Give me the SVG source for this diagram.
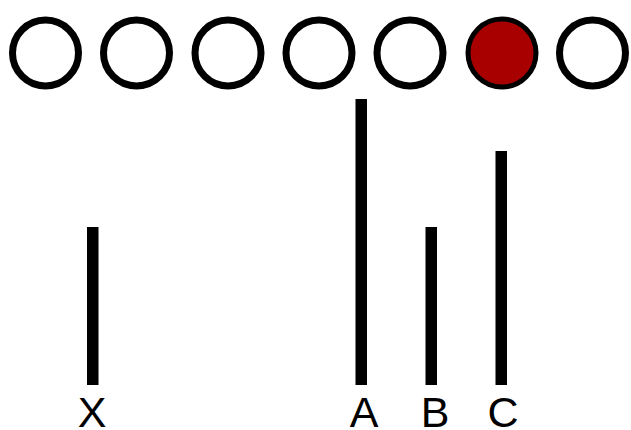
<svg xmlns="http://www.w3.org/2000/svg" width="631" height="430" viewBox="0 0 631 430">
<style>
.c{fill:#fff;stroke:#000;stroke-width:7}
.r{fill:#a80000;stroke:#000;stroke-width:5}
.bar{fill:#000}
.t{font-family:"Liberation Sans",Arial,sans-serif;font-size:43px;fill:#000;text-anchor:middle}
</style>
<rect width="631" height="430" fill="#fff"/>
<g id="c1"><circle class="c" cx="45.5" cy="53" r="33"/></g>
<g id="c2"><circle class="c" cx="136.5" cy="53" r="33"/></g>
<g id="c3"><circle class="c" cx="228" cy="53" r="33"/></g>
<g id="c4"><circle class="c" cx="319" cy="53" r="33"/></g>
<g id="c5"><circle class="c" cx="410" cy="53" r="33"/></g>
<g id="c6"><circle class="r" cx="502" cy="53" r="34"/></g>
<g id="c7"><circle class="c" cx="592.5" cy="53" r="33"/></g>
<g id="bars">
<rect class="bar" x="87" y="227" width="11.5" height="158"/>
<rect class="bar" x="355.5" y="99" width="11.5" height="286"/>
<rect class="bar" x="425.5" y="227" width="11.5" height="158"/>
<rect class="bar" x="495.5" y="151" width="11.5" height="234"/>
</g>
<g id="labels">
<text class="t" x="92" y="427">X</text>
<text class="t" x="364" y="427">A</text>
<text class="t" x="435" y="427">B</text>
<text class="t" x="503" y="427">C</text>
</g>
</svg>
